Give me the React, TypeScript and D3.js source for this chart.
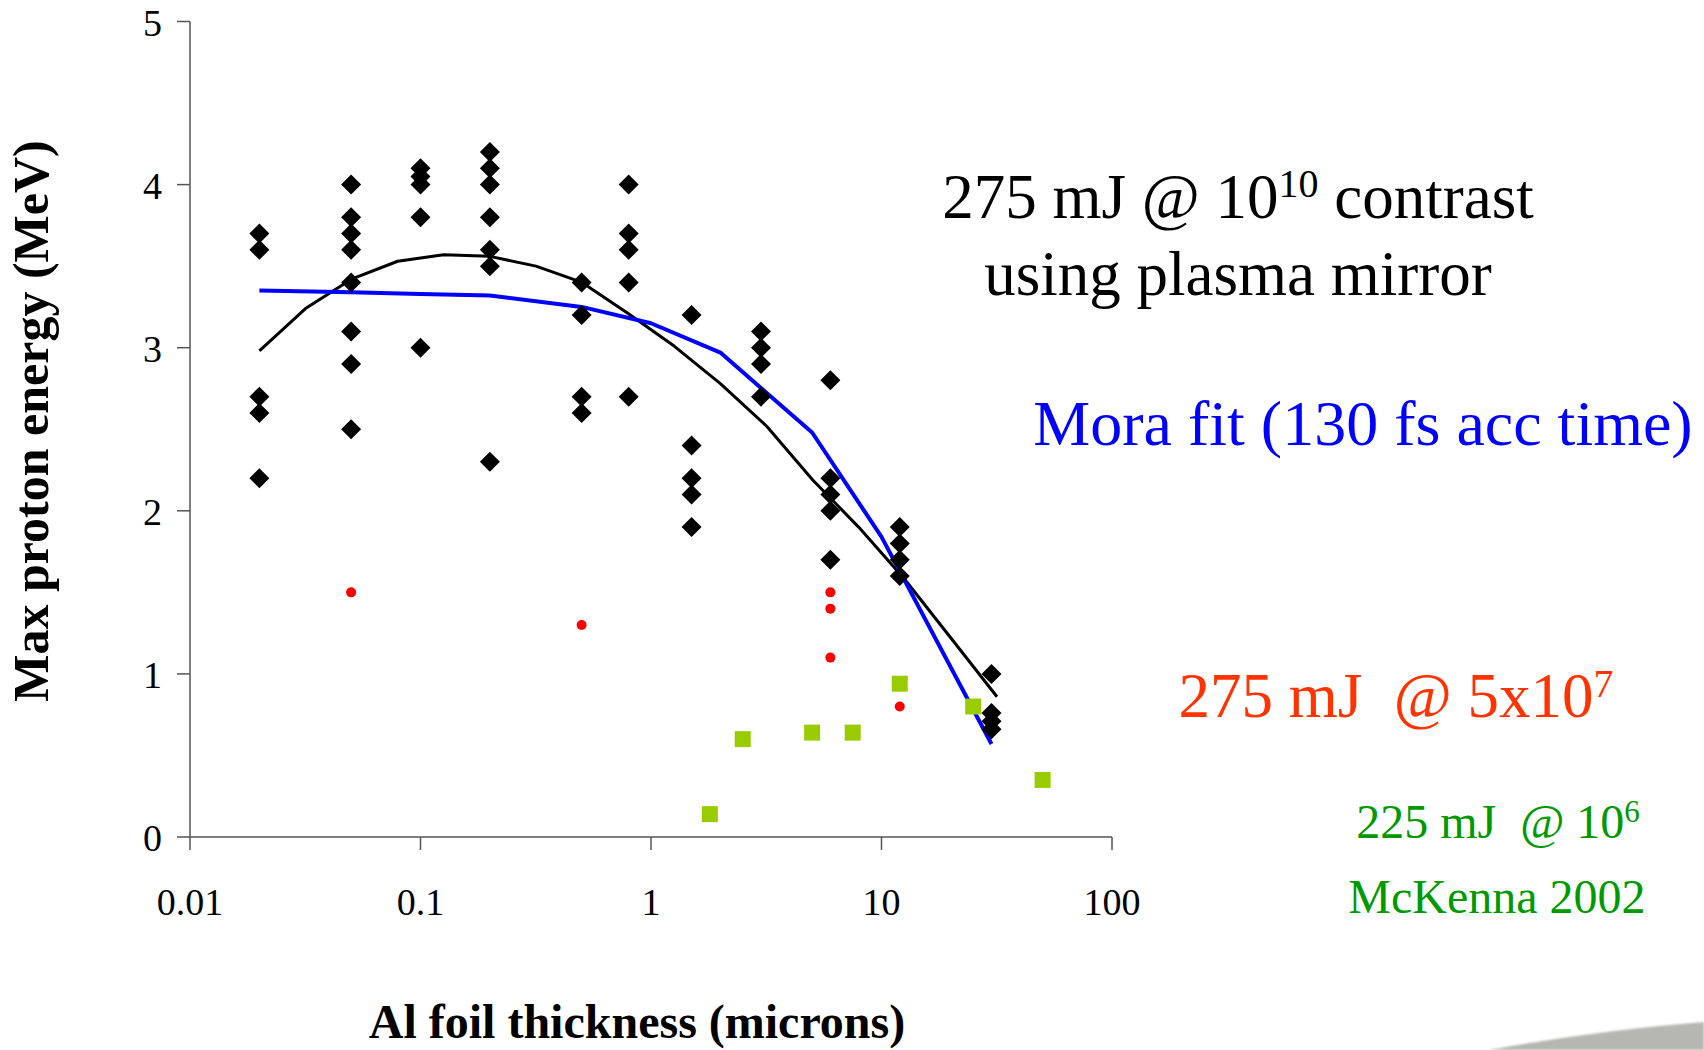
import React from "react";
import * as d3 from "d3";

// Plasma-mirror shots (275 mJ @ 10^10 contrast): foil thickness (µm) and max proton energies (MeV)
const mirrorThickness = [0.02, 0.05, 0.1, 0.2, 0.5, 0.8, 1.5, 3, 6, 12, 30];
const mirrorEnergies = [
  [3.7, 3.6, 2.7, 2.6, 2.2],
  [4.0, 3.8, 3.7, 3.6, 3.4, 3.1, 2.9, 2.5],
  [4.1, 4.05, 4.0, 3.8, 3.0],
  [4.2, 4.1, 4.0, 3.8, 3.6, 3.5, 2.3],
  [3.4, 3.2, 2.7, 2.6],
  [4.0, 3.7, 3.6, 3.4, 2.7],
  [3.2, 2.4, 2.2, 2.1, 1.9],
  [3.1, 3.0, 2.9, 2.7],
  [2.8, 2.2, 2.1, 2.0, 1.7],
  [1.9, 1.8, 1.7, 1.6],
  [1.0, 0.76, 0.71, 0.66],
];

// 275 mJ @ 5x10^7 contrast
const lowContrastThickness = [0.05, 0.5, 6, 6, 6, 12];
const lowContrastEnergy = [1.5, 1.3, 1.5, 1.4, 1.1, 0.8];

// 225 mJ @ 10^6, McKenna 2002
const mckennaThickness = [1.8, 2.5, 5, 7.5, 12, 25, 50];
const mckennaEnergy = [0.14, 0.6, 0.64, 0.64, 0.94, 0.8, 0.35];

// Trend line through the plasma-mirror data
const trendThickness = [0.02, 0.0317, 0.0502, 0.0796, 0.126, 0.2, 0.317, 0.502, 0.796, 1.26, 2.0, 3.17, 5.02, 7.96, 12.6, 20, 31.7];
const trendEnergy = [2.98, 3.24, 3.42, 3.53, 3.57, 3.56, 3.5, 3.4, 3.21, 3.01, 2.78, 2.52, 2.19, 1.9, 1.58, 1.22, 0.86];

// Mora model fit (130 fs acceleration time)
const moraThickness = [0.02, 0.05, 0.1, 0.2, 0.5, 1, 2, 5, 10, 30];
const moraEnergy = [3.35, 3.34, 3.33, 3.32, 3.25, 3.15, 2.97, 2.48, 1.84, 0.57];

const xTicks = [0.01, 0.1, 1, 10, 100];
const xTickLabels = ["0.01", "0.1", "1", "10", "100"];
const yTicks = [0, 1, 2, 3, 4, 5];

const W = 1704;
const H = 1050;
const FONT = "'Liberation Serif', 'Times New Roman', serif";

export default function App() {
  const x = d3.scaleLog().domain([0.01, 100]).range([190, 1112]);
  const y = d3.scaleLinear().domain([0, 5]).range([837, 21.5]);

  const line = d3
    .line<[number, number]>()
    .x((d) => x(d[0]))
    .y((d) => y(d[1]));

  const trendPath = line(trendThickness.map((t, i) => [t, trendEnergy[i]]) as [number, number][]) || "";
  const moraPath = line(moraThickness.map((t, i) => [t, moraEnergy[i]]) as [number, number][]) || "";

  const mirrorPoints: [number, number][] = [];
  mirrorThickness.forEach((t, i) => mirrorEnergies[i].forEach((e) => mirrorPoints.push([t, e])));

  const ds = 10;
  const diamond = `M0,${-ds}L${ds},0L0,${ds}L${-ds},0Z`;
  const sq = 16;
  const axisColor = "#555";

  const x0 = x.range()[0];
  const x1 = x.range()[1];
  const yBottom = y(0);
  const yTop = y(5);

  const pre = { whiteSpace: "pre" as const };

  return (
    <svg
      width={W}
      height={H}
      viewBox={`0 0 ${W} ${H}`}
      style={{ position: "absolute", left: 0, top: 0, display: "block", background: "#fff" }}
      fontFamily={FONT}
    >
      <defs>
        <filter id="soft" x="-10%" y="-10%" width="120%" height="120%">
          <feGaussianBlur stdDeviation="1.2" />
        </filter>
      </defs>
      <rect x={0} y={0} width={W} height={H} fill="#fff" />

      {/* slide corner decoration */}
      <path d="M1488,1050 Q1600,1030 1704,1022 L1704,1050 Z" fill="#b7b7b1" filter="url(#soft)" />

      {/* axes */}
      <line x1={x0} x2={x0} y1={yTop} y2={yBottom} stroke={axisColor} strokeWidth={1.5} />
      <line x1={x0} x2={x1} y1={yBottom} y2={yBottom} stroke={axisColor} strokeWidth={1.5} />
      {yTicks.map((t) => (
        <g key={`yt${t}`}>
          <line x1={x0 - 13} x2={x0} y1={y(t)} y2={y(t)} stroke={axisColor} strokeWidth={1.5} />
          <text x={162} y={y(t) + 14} textAnchor="end" fontSize={38} fill="#000">
            {t}
          </text>
        </g>
      ))}
      {xTicks.map((t, i) => (
        <g key={`xt${t}`}>
          <line x1={x(t)} x2={x(t)} y1={yBottom} y2={yBottom + 13} stroke={axisColor} strokeWidth={1.5} />
          <text x={x(t)} y={915} textAnchor="middle" fontSize={38} fill="#000">
            {xTickLabels[i]}
          </text>
        </g>
      ))}

      {/* axis titles */}
      <text x={637} y={1038} textAnchor="middle" fontSize={48} fontWeight="bold" fill="#000">
        Al foil thickness (microns)
      </text>
      <text
        transform={`translate(48,421) rotate(-90)`}
        textAnchor="middle"
        fontSize={50}
        fontWeight="bold"
        fill="#000"
      >
        Max proton energy (MeV)
      </text>

      {/* fit lines */}
      <path d={trendPath} fill="none" stroke="#000" strokeWidth={3} strokeLinejoin="round" />
      <path d={moraPath} fill="none" stroke="#0000ff" strokeWidth={4} strokeLinejoin="round" />

      {/* data markers */}
      {mirrorPoints.map(([t, e], i) => (
        <path key={`m${i}`} d={diamond} transform={`translate(${x(t)},${y(e)})`} fill="#000" />
      ))}
      {lowContrastThickness.map((t, i) => (
        <circle key={`r${i}`} cx={x(t)} cy={y(lowContrastEnergy[i])} r={5} fill="#ff0000" />
      ))}
      {mckennaThickness.map((t, i) => (
        <rect
          key={`g${i}`}
          x={x(t) - sq / 2}
          y={y(mckennaEnergy[i]) - sq / 2}
          width={sq}
          height={sq}
          fill="#99cc00"
        />
      ))}

      {/* annotations */}
      <text x={1238} y={218} textAnchor="middle" fontSize={63} fill="#000" xmlSpace="preserve" style={pre}>
        {"275 mJ @ 10"}
        <tspan dy={-21} fontSize={40}>
          {"10"}
        </tspan>
        <tspan dy={21}>{" contrast"}</tspan>
      </text>
      <text x={1238} y={295} textAnchor="middle" fontSize={63} fill="#000">
        using plasma mirror
      </text>
      <text x={1363} y={445} textAnchor="middle" fontSize={64} fill="#0000ff">
        Mora fit (130 fs acc time)
      </text>
      <text x={1396} y={717} textAnchor="middle" fontSize={63} fill="#ff3300" xmlSpace="preserve" style={pre}>
        {"275 mJ  @ 5x10"}
        <tspan dy={-20} fontSize={40}>
          {"7"}
        </tspan>
      </text>
      <text x={1498} y={838} textAnchor="middle" fontSize={48} fill="#009900" xmlSpace="preserve" style={pre}>
        {"225 mJ  @ 10"}
        <tspan dy={-16} fontSize={31}>
          {"6"}
        </tspan>
      </text>
      <text x={1497} y={913} textAnchor="middle" fontSize={48} fill="#009900">
        McKenna 2002
      </text>
    </svg>
  );
}
